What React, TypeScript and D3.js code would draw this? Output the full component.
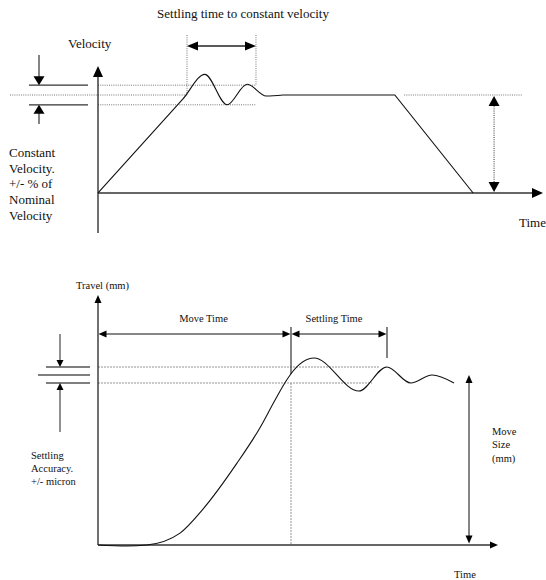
import React, { useRef, useEffect } from 'react';
import * as d3 from 'd3';

// Top diagram: velocity profile (time units, velocity as fraction of nominal)
const settleTime = [0, 1.91, 2.4, 2.9, 3.35, 3.78, 4.16];
const settleVelocity = [0, 0.96, 1.21, 0.9, 1.11, 0.99, 1.0];
const cruiseTime = [4.16, 6.67, 8.43];
const cruiseVelocity = [1, 1, 0];
const velocityBand = 0.1; // +/- % of nominal
const settleWindow = [2.0, 3.55];

// Bottom diagram: travel vs time (position as fraction of move size)
const travelTime = [0, 0.72, 1.22, 2.05, 2.62, 3.47, 4.05, 4.42, 4.67, 4.82, 5.4, 6.52, 7.22, 7.82, 8.35, 8.9];
const travelPosition = [0, -0.006, 0, 0.07, 0.21, 0.48, 0.69, 0.85, 0.953, 1.006, 1.1, 0.906, 1.047, 0.953, 1.0, 0.953];
const accuracyBand = 0.047; // +/- micron
const moveTimeEnd = 4.825;
const settlingTimeEnd = 7.225;
const moveSizeAt = 9.275;

const topNote = ['Constant', 'Velocity.', '+/- % of', 'Nominal', 'Velocity'];
const bottomNote = ['Settling', 'Accuracy.', '+/- micron'];
const sizeNote = ['Move', 'Size', '(mm)'];

const FONT = "'Liberation Serif', 'Times New Roman', 'DejaVu Serif', serif";

const App = () => {
    const svgRef = useRef(null);

    useEffect(() => {
        const svg = d3.select(svgRef.current);
        svg.selectAll('*').remove();

        const line = (x1, y1, x2, y2, stroke = '#111', width = 1, dash = null) => {
            const l = svg.append('line')
                .attr('x1', x1).attr('y1', y1).attr('x2', x2).attr('y2', y2)
                .attr('stroke', stroke).attr('stroke-width', width);
            if (dash) l.attr('stroke-dasharray', dash);
            return l;
        };

        // filled arrow head, tip at (x, y)
        const head = (x, y, dir, len, half) => {
            let pts;
            if (dir === 'up') pts = [[x, y], [x - half, y + len], [x + half, y + len]];
            else if (dir === 'down') pts = [[x, y], [x - half, y - len], [x + half, y - len]];
            else if (dir === 'left') pts = [[x, y], [x + len, y - half], [x + len, y + half]];
            else pts = [[x, y], [x - len, y - half], [x - len, y + half]];
            svg.append('path')
                .attr('d', `M${pts.map(p => p.join(',')).join('L')}Z`)
                .attr('fill', '#000');
        };

        const text = (x, y, str, size, anchor = 'start') => {
            svg.append('text')
                .attr('x', x).attr('y', y)
                .style('font-family', FONT)
                .style('font-size', `${size}px`)
                .attr('text-anchor', anchor)
                .attr('fill', '#111')
                .text(str);
        };

        const dotted = '1,1.2';
        const dotColor = '#777';

        // ---------- Top: velocity ----------
        const xV = d3.scaleLinear().domain([0, 10]).range([98, 543]);
        const yV = d3.scaleLinear().domain([0, 1]).range([193, 95]);

        text(243, 18, 'Settling time to constant velocity', 13, 'middle');
        text(68, 48, 'Velocity', 13);
        text(519, 227, 'Time', 13);
        topNote.forEach((s, i) => text(9, 157 + i * 15.7, s, 13));

        // band guide lines
        line(xV(0), yV(1 + velocityBand), xV(settleWindow[1]), yV(1 + velocityBand), dotColor, 1, dotted);
        line(xV(0), yV(1 - velocityBand), xV(settleWindow[1]), yV(1 - velocityBand), dotColor, 1, dotted);
        line(10, yV(1), xV(settleWindow[0]), yV(1), dotColor, 1, dotted);
        line(xV(6.88), yV(1), xV(9.53), yV(1), dotColor, 1, dotted);

        // left band marker
        line(29, yV(1 + velocityBand), 88, yV(1 + velocityBand), '#333', 1.3);
        line(29, yV(1 - velocityBand), 88, yV(1 - velocityBand), '#333', 1.3);
        line(39, 55, 39, yV(1 + velocityBand) - 8, '#333', 1.2);
        head(39, yV(1 + velocityBand), 'down', 9, 5.5);
        line(39, 124, 39, yV(1 - velocityBand) + 8, '#333', 1.2);
        head(39, yV(1 - velocityBand), 'up', 9, 5.5);

        // settling window
        line(xV(settleWindow[0]), 35, xV(settleWindow[0]), yV(1), dotColor, 1, dotted);
        line(xV(settleWindow[1]), 35, xV(settleWindow[1]), yV(1 + velocityBand), dotColor, 1, dotted);
        line(xV(settleWindow[0]) + 8, 46, xV(settleWindow[1]) - 8, 46, '#222', 1.3);
        head(xV(settleWindow[0]), 46, 'left', 11, 4.5);
        head(xV(settleWindow[1]), 46, 'right', 11, 4.5);

        // velocity magnitude arrow (dotted)
        line(xV(8.9), yV(1) + 9, xV(8.9), yV(0) - 9, '#333', 1, dotted);
        head(xV(8.9), yV(1) + 1, 'up', 10, 5.5);
        head(xV(8.9), yV(0) - 1, 'down', 10, 5.5);

        // axes
        line(xV(0), 233, xV(0), 72, '#333', 1.4);
        head(xV(0), 66, 'up', 11, 5);
        line(xV(0), yV(0), 536, yV(0), '#333', 1.4);
        head(543, yV(0), 'right', 11, 5);

        // profile curves
        const settleData = settleTime.map((t, i) => [t, settleVelocity[i]]);
        const cruiseData = cruiseTime.map((t, i) => [t, cruiseVelocity[i]]);
        svg.append('path')
            .datum(settleData)
            .attr('fill', 'none')
            .attr('stroke', '#111')
            .attr('stroke-width', 1.1)
            .attr('d', d3.line().x(d => xV(d[0])).y(d => yV(d[1])).curve(d3.curveMonotoneX));
        svg.append('path')
            .datum(cruiseData)
            .attr('fill', 'none')
            .attr('stroke', '#111')
            .attr('stroke-width', 1.1)
            .attr('d', d3.line().x(d => xV(d[0])).y(d => yV(d[1])));

        // ---------- Bottom: travel ----------
        const xT = d3.scaleLinear().domain([0, 10]).range([98, 498]);
        const yT = d3.scaleLinear().domain([0, 1]).range([545, 375]);

        text(76, 289, 'Travel (mm)', 10.5);
        text(454, 578, 'Time', 10.5);
        text((xT(0) + xT(moveTimeEnd)) / 2 + 9, 322, 'Move Time', 10.5, 'middle');
        text((xT(moveTimeEnd) + xT(settlingTimeEnd)) / 2 - 5, 322, 'Settling Time', 10.5, 'middle');
        bottomNote.forEach((s, i) => text(31, 459 + i * 13, s, 10.5));
        sizeNote.forEach((s, i) => text(492, 435 + i * 13.3, s, 10.5));

        // band guide lines
        line(xT(0), yT(1 + accuracyBand), xT(7.05), yT(1 + accuracyBand), '#888', 0.9, '2,1');
        line(xT(0), yT(1 - accuracyBand), xT(6.85), yT(1 - accuracyBand), '#888', 0.9, '2,1');

        // left accuracy marker
        line(46, yT(1 + accuracyBand), 90, yT(1 + accuracyBand), '#555', 1.3);
        line(38, yT(1), 90, yT(1), '#555', 1.3);
        line(46, yT(1 - accuracyBand), 90, yT(1 - accuracyBand), '#555', 1.3);
        line(60, 334, 60, yT(1 + accuracyBand) - 6, '#222', 1);
        head(60, yT(1 + accuracyBand), 'down', 7, 3.5);
        line(60, 432, 60, yT(1 - accuracyBand) + 6, '#222', 1);
        head(60, yT(1 - accuracyBand), 'up', 7, 3.5);

        // move time / settling time
        const curveAtMove = yT(1.006);
        line(xT(moveTimeEnd), 327, xT(moveTimeEnd), curveAtMove, '#333', 1.2);
        line(xT(moveTimeEnd), yT(1 - accuracyBand), xT(moveTimeEnd), yT(0), '#888', 0.9, '2,1');
        line(xT(settlingTimeEnd), 327, xT(settlingTimeEnd), 358, '#333', 1.2);
        line(xT(0) + 6, 334, xT(moveTimeEnd) - 6, 334, '#111', 1.2);
        head(xT(0) + 0.5, 334, 'left', 8, 3.5);
        head(xT(moveTimeEnd) - 0.5, 334, 'right', 8, 3.5);
        line(xT(moveTimeEnd) + 6, 334, xT(settlingTimeEnd) - 6, 334, '#111', 1.2);
        head(xT(moveTimeEnd) + 0.5, 334, 'left', 8, 3.5);
        head(xT(settlingTimeEnd) - 0.5, 334, 'right', 8, 3.5);

        // move size arrow
        line(xT(moveSizeAt), yT(1) + 6, xT(moveSizeAt), yT(0) - 7, '#222', 1.1);
        head(xT(moveSizeAt), yT(1), 'up', 8, 3.5);
        head(xT(moveSizeAt), yT(0) - 1.5, 'down', 8, 3.5);

        // axes
        line(xT(0), yT(0), xT(0), 300, '#111', 1.2);
        head(xT(0), 295, 'up', 8, 3.5);
        line(xT(0), yT(0), 492, yT(0), '#333', 1.3);
        head(498, yT(0), 'right', 8, 3.5);

        // travel curve
        const travelData = travelTime.map((t, i) => [t, travelPosition[i]]);
        svg.append('path')
            .datum(travelData)
            .attr('fill', 'none')
            .attr('stroke', '#111')
            .attr('stroke-width', 1.1)
            .attr('d', d3.line().x(d => xT(d[0])).y(d => yT(d[1])).curve(d3.curveMonotoneX));
    }, []);

    return (
        <svg
            ref={svgRef}
            width={546}
            height={580}
            style={{ position: 'absolute', left: 0, top: 0, background: '#fff' }}
        />
    );
};

export default App;
